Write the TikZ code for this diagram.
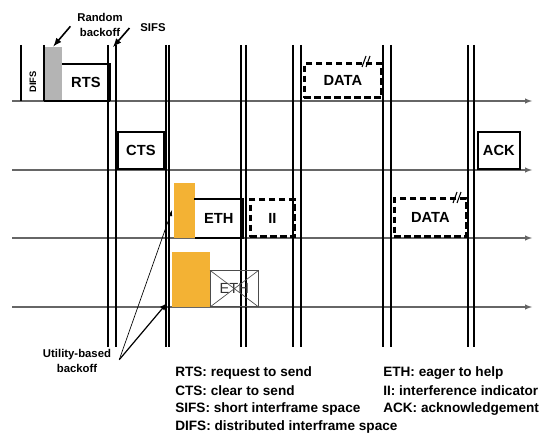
\documentclass[tikz,border=0pt]{standalone}
\usepackage{fontspec}
\setmainfont{Liberation Sans}
\usetikzlibrary{positioning}
\definecolor{ethorange}{RGB}{243,178,52}
\definecolor{backoffgray}{RGB}{180,180,180}
\tikzset{timeline/.style={draw=black!60, line width=0.8pt, -latex}}
\tikzset{slotline/.style={line width=1.4pt}}
\tikzset{slotlinebold/.style={line width=2pt}}
\tikzset{framebox/.style={draw, line width=1.3pt, inner sep=0pt, anchor=south west, font=\fontsize{11}{13}\selectfont\bfseries}}
\tikzset{openbox/.style={framebox, draw=none}}
\tikzset{databox/.style={framebox, dashed, line width=2pt, dash pattern=on 5pt off 2.5pt}}
\tikzset{graybox/.style={fill=backoffgray, inner sep=0pt, anchor=south west}}
\tikzset{orangebox/.style={fill=ethorange, inner sep=0pt, anchor=south west}}
\tikzset{lostbox/.style={draw=black!70, line width=0.5pt, inner sep=0pt, anchor=south west, font=\fontsize{11}{13}\selectfont, text=black!80}}
\tikzset{smalllabel/.style={inner sep=1pt, font=\fontsize{8.5}{11.5}\selectfont\bfseries}}
\tikzset{legend/.style={anchor=west, inner sep=0pt, font=\fontsize{10.2}{13}\selectfont\bfseries}}
\tikzset{pointer/.style={line width=1.2pt, -latex}}
\tikzset{thinpointer/.style={line width=0.5pt, -latex}}

\begin{document}
\begin{tikzpicture}[x=0.75pt,y=-0.75pt]
\useasboundingbox (0,0) rectangle (541,434);

\foreach \r/\y in {1/101,2/170,3/238,4/307} {
  \coordinate (s\r) at (12,\y);
  \coordinate (e\r) at (532,\y);
  \draw[timeline] (s\r) -- (e\r);
}

\foreach \a/\b in {108/116,166/169,241/246,293/301,383/391,468/474} {
  \draw[slotline] (\a,45) -- (\a,347);
  \draw[slotlinebold] (\b,45) -- (\b,347);
}
\draw[slotline] (21,45) -- (21,101);

\node[graybox, minimum width=13.5pt, minimum height=40.5pt] (bk) at (44,101) {};
\node[openbox, minimum width=34.5pt, minimum height=26.25pt] (rts) at (62,101) {RTS};
\draw[line width=1.3pt] (rts.north west) -- (rts.north east) -- (rts.south east);
\draw[slotline] (44,45) -- (bk.south west);
\draw[line width=2pt] (bk.south west) -- (rts.south east);

\node[framebox, minimum width=34.5pt, minimum height=27.75pt] (cts) at (117,170) {CTS};
\node[databox, minimum width=57.75pt, minimum height=25.5pt] (data1) at (303,99) {DATA};
\node[framebox, minimum width=31.5pt, minimum height=27.75pt] (ack) at (477,170) {ACK};

\node[orangebox, minimum width=15.75pt, minimum height=41.25pt] (or3) at (174,238) {};
\node[openbox, minimum width=34.5pt, minimum height=27.75pt] (eth3) at (195,238) {ETH};
\draw[line width=1.3pt] (eth3.south west) -- (eth3.south east) -- (eth3.north east) -- (eth3.north west);
\draw[line width=1.8pt] ([xshift=-0.5pt]eth3.north west) -- (eth3.north east);
\node[databox, minimum width=33pt, minimum height=27.75pt] (ii) at (249,238) {II};
\node[databox, minimum width=54pt, minimum height=28.5pt] (data3) at (393,238) {DATA};

\node[orangebox, minimum width=28.5pt, minimum height=41.25pt] (or4) at (172,307) {};
\node[lostbox, minimum width=36pt, minimum height=27pt] (eth4) at (210,307) {ETH};
\draw[draw=black!70, line width=0.5pt] (eth4.north west) -- (eth4.south east) (eth4.north east) -- (eth4.south west);

\draw[line width=0.8pt] (362,67) -- (366,56) (366,67) -- (370,56);
\draw[line width=0.8pt] (453,203) -- (457,192) (457,203) -- (461,192);

\node[smalllabel, align=center] (rb) at (100,25) {Random\\backoff};
\node[smalllabel] (sifs) at (153,28) {SIFS};
\node[smalllabel, font=\fontsize{7}{8}\selectfont\bfseries, rotate=90] (difs) at (33,82) {DIFS};
\node[smalllabel, align=center] (ub) at (77,361) {Utility-based\\backoff};

\coordinate (sifstip) at (113,47);
\draw[pointer] ([xshift=-4pt,yshift=-1pt]rb.west) -- (bk.north);
\draw[pointer] ([xshift=-7pt]sifs.west) -- (sifstip);
\draw[thinpointer] ([xshift=5pt,yshift=1pt]ub.east) -- ([xshift=-1.5pt]or3.west);
\draw[pointer, line width=0.9pt] ([xshift=5pt,yshift=1pt]ub.east) -- ([xshift=-3.75pt,yshift=3pt]or4.south west);

\node[legend] (lrts) at (175,373) {RTS: request to send};
\node[legend] (lcts) at (175,391) {CTS: clear to send};
\node[legend] (lsifs) at (175,409) {SIFS: short interframe space};
\node[legend] (ldifs) at (175,427) {DIFS: distributed interframe space};
\node[legend] (leth) at (383,373) {ETH: eager to help};
\node[legend] (lii) at (383,391) {II: interference indicator};
\node[legend] (lack) at (383,409) {ACK: acknowledgement};

\end{tikzpicture}
\end{document}
